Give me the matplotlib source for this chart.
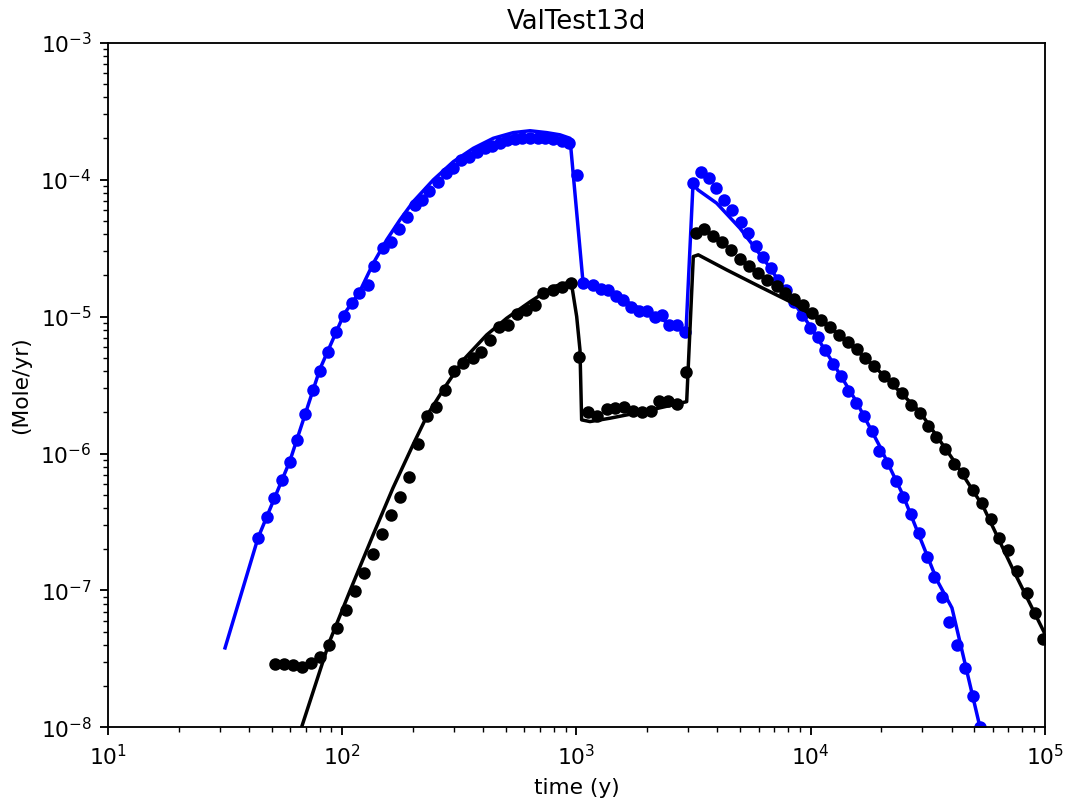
import matplotlib
matplotlib.use("Agg")
import matplotlib.pyplot as plt

# blue: model (line) and data (dots)
blue_line_t = [31.6, 43.7, 59.8, 80.4, 101.8, 118.3, 135.8, 154.9, 176.5, 201.2,
               244.9, 298.2, 362.9, 441.7, 537.7, 633.9, 746.8, 851.1, 939, 1067,
               1261, 1581, 2166, 2938, 3148, 3305, 3972, 4995, 6496, 8437,
               9940, 12460, 15630, 19790, 24800, 27360, 34650, 40160, 53400]
blue_line_y = [3.81e-8, 2.42e-7, 8.83e-7, 4.15e-6, 1.04e-5, 1.50e-5, 2.45e-5, 3.63e-5, 5.08e-5, 6.90e-5,
               9.94e-5, 1.35e-4, 1.69e-4, 2.00e-4, 2.20e-4, 2.27e-4, 2.20e-4, 2.12e-4, 2.00e-4, 1.79e-5,
               1.59e-5, 1.32e-5, 1.01e-5, 7.72e-6, 9.30e-5, 8.40e-5, 6.72e-5, 4.41e-5, 2.45e-5, 1.28e-5,
               8.54e-6, 4.59e-6, 2.42e-6, 1.12e-6, 4.98e-7, 3.27e-7, 1.19e-7, 7.46e-8, 9.4e-9]

blue_dot_t = [43.8, 47.6, 51.2, 55.2, 59.8, 63.9, 69.4, 75.3, 80.4, 87.2,
              94.1, 101.8, 109.8, 118.3, 129.3, 136.7, 148.9, 161.6, 174.8, 188.6,
              204.6, 219.1, 235.5, 255.7, 276.7, 298.2, 321.6, 346.8, 377.5, 407.2,
              437.4, 471.9, 505.4, 546.7, 587.5, 633.9, 683.6, 738.0, 797, 865.6,
              932.6, 1006,
              1070, 1174, 1270, 1368, 1476, 1586, 1711, 1856, 1996, 2166,
              2313, 2493, 2696, 2909,
              3138, 3404, 3694, 3934, 4268, 4632, 5030, 5389, 5830, 6281,
              6753, 7279, 7852, 8495, 9162, 9940, 10790, 11520, 12430, 13480,
              14490, 15630, 16900, 18290, 19650, 21260, 23080, 24730, 26760, 28930,
              31310, 33650, 36400, 39110, 42050, 45630, 49220, 52880]
blue_dot_y = [2.43e-7, 3.46e-7, 4.76e-7, 6.38e-7, 8.63e-7, 1.25e-6, 1.95e-6, 2.91e-6, 4.03e-6, 5.55e-6,
              7.68e-6, 1.01e-5, 1.25e-5, 1.48e-5, 1.71e-5, 2.35e-5, 3.15e-5, 3.52e-5, 4.34e-5, 5.37e-5,
              6.53e-5, 7.10e-5, 8.27e-5, 9.61e-5, 1.113e-4, 1.21e-4, 1.39e-4, 1.47e-4, 1.60e-4, 1.69e-4,
              1.76e-4, 1.86e-4, 1.93e-4, 1.98e-4, 2.00e-4, 2.00e-4, 2.00e-4, 2.00e-4, 1.96e-4, 1.92e-4,
              1.86e-4, 1.08e-4,
              1.75e-5, 1.70e-5, 1.58e-5, 1.55e-5, 1.40e-5, 1.32e-5, 1.17e-5, 1.09e-5, 1.10e-5, 9.89e-6,
              1.03e-5, 8.69e-6, 8.69e-6, 7.76e-6,
              9.40e-5, 1.14e-4, 1.02e-4, 8.65e-5, 7.10e-5, 6.01e-5, 4.93e-5, 4.06e-5, 3.29e-5, 2.74e-5,
              2.25e-5, 1.85e-5, 1.56e-5, 1.28e-5, 1.03e-5, 8.30e-6, 7.06e-6, 5.71e-6, 4.51e-6, 3.68e-6,
              2.86e-6, 2.35e-6, 1.88e-6, 1.46e-6, 1.05e-6, 8.58e-7, 6.34e-7, 4.84e-7, 3.62e-7, 2.64e-7,
              1.75e-7, 1.25e-7, 8.93e-8, 5.92e-8, 4.00e-8, 2.70e-8, 1.70e-8, 1.01e-8]

# black: model (line) and data (dots)
black_line_t = [65.4, 87.8, 107.9, 135.8, 164.8, 201.2, 232.5, 274.8, 328.9, 414.0,
                504.0, 633.9, 797, 912, 954.8, 1003, 1036, 1053, 1143, 1392,
                1931, 2958, 3157, 3315, 4384, 6081, 8437, 12100, 18840, 29320,
                40970, 54630, 73400, 101200]
black_line_y = [8.8e-9, 4.14e-8, 9.92e-8, 2.57e-7, 5.61e-7, 1.17e-6, 1.95e-6, 3.06e-6, 4.82e-6, 7.34e-6,
                9.72e-6, 1.28e-5, 1.65e-5, 1.76e-5, 1.70e-5, 9.99e-6, 5.71e-6, 1.76e-6, 1.71e-6, 1.81e-6,
                2.02e-6, 2.39e-6, 2.74e-5, 2.82e-5, 2.19e-5, 1.65e-5, 1.25e-5, 8.40e-6, 4.29e-6, 2.01e-6,
                8.83e-7, 4.09e-7, 1.41e-7, 4.66e-8]

black_dot_t = [51.4, 56.2, 61.5, 67.2, 73.6, 80.4, 87.8, 95.0, 103.8, 113.6,
               124.3, 135.8, 148.3, 162.1, 177.1, 192.9, 210.1, 230.2, 250.7, 274.8,
               299.4, 328.9, 360.1, 392.6, 426.5, 465.7, 509.4, 556.2, 609.3, 665.8,
               722.3, 792.3, 865.6, 945.6, 1029, 1124, 1225, 1348, 1462, 1601,
               1740, 1900, 2076, 2259, 2469, 2696, 2938, 3241, 3505, 3819,
               4173, 4572, 4995, 5472, 5979, 6534, 7166, 7812, 8478, 9281,
               10140, 11080, 12140, 13290, 14490, 15740, 17160, 18750, 20580, 22420,
               24490, 26760, 29320, 31620, 34310, 37490, 40970, 44870, 49220, 53790,
               58920, 63920, 69850, 76300, 83700, 90800, 98500]
black_dot_y = [2.91e-8, 2.91e-8, 2.86e-8, 2.78e-8, 2.97e-8, 3.29e-8, 4.00e-8, 5.30e-8, 7.21e-8, 9.84e-8,
               1.34e-7, 1.85e-7, 2.57e-7, 3.56e-7, 4.84e-7, 6.78e-7, 1.17e-6, 1.87e-6, 2.20e-6, 2.91e-6,
               3.99e-6, 4.56e-6, 5.00e-6, 5.47e-6, 6.75e-6, 8.44e-6, 8.64e-6, 1.04e-5, 1.12e-5, 1.22e-5,
               1.48e-5, 1.56e-5, 1.64e-5, 1.75e-5, 5.10e-6, 2.01e-6, 1.88e-6, 2.11e-6, 2.14e-6, 2.18e-6,
               2.06e-6, 2.00e-6, 2.06e-6, 2.43e-6, 2.43e-6, 2.30e-6, 3.96e-6, 4.06e-5, 4.34e-5, 3.88e-5,
               3.52e-5, 3.06e-5, 2.62e-5, 2.34e-5, 2.07e-5, 1.85e-5, 1.67e-5, 1.49e-5, 1.34e-5, 1.22e-5,
               1.06e-5, 9.50e-6, 8.44e-6, 7.34e-6, 6.56e-6, 5.83e-6, 4.99e-6, 4.36e-6, 3.68e-6, 3.29e-6,
               2.75e-6, 2.26e-6, 1.97e-6, 1.59e-6, 1.33e-6, 1.07e-6, 8.39e-7, 7.18e-7, 5.42e-7, 4.38e-7,
               3.31e-7, 2.43e-7, 1.98e-7, 1.39e-7, 9.54e-8, 6.89e-8, 4.41e-8]

plt.rcParams['font.size'] = 9.4

fig = plt.figure(figsize=(6.4, 4.797), dpi=166.6)
ax = fig.add_axes([108 / 1066, 1 - 727.5 / 799, 936.5 / 1066, 684.8 / 799])

ax.loglog(blue_line_t, blue_line_y, 'b-', lw=1.5)
ax.loglog(blue_dot_t, blue_dot_y, 'bo', ms=4.4)
ax.loglog(black_line_t, black_line_y, 'k-', lw=1.5)
ax.loglog(black_dot_t, black_dot_y, 'ko', ms=4.4)

ax.set_xlim(1e1, 1e5)
ax.set_ylim(1e-8, 1e-3)
ax.set_title('ValTest13d', fontsize=11.2)
ax.set_xlabel('time (y)')
ax.set_ylabel('(Mole/yr)')

fig.savefig('out.png', dpi=166.6)
